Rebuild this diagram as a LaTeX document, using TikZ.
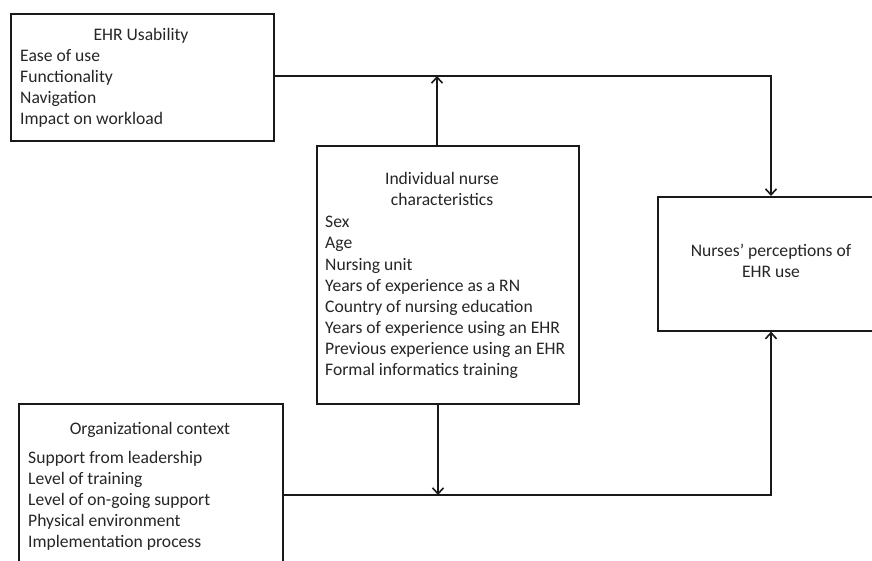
\documentclass[tikz,border=0pt]{standalone}
\usepackage{fontspec}
\setmainfont{Carlito}
\usetikzlibrary{arrows.meta}
\begin{document}
\begin{tikzpicture}[x=1pt,y=-1pt,
  box/.style={draw=black!90,line width=1.6pt,rectangle,inner sep=0pt,anchor=north west},
  txt/.style={font=\fontsize{17.6}{21}\selectfont,inner sep=0pt,anchor=base west,text=black!85},
  ctxt/.style={font=\fontsize{17.6}{21}\selectfont,inner sep=0pt,anchor=base,text=black!85},
  conn/.style={draw=black!90,line width=1.6pt},
  arr/.style={conn,-{Straight Barb[length=6pt,width=11pt,line width=1.6pt]}}]
\clip (0,0) rectangle (872,561);
\fill[white] (0,0) rectangle (872,561);
% boxes
\node[box,minimum width=263pt,minimum height=127pt] (ehr) at (10,13) {};
\node[box,minimum width=262pt,minimum height=258pt] (ind) at (316,145) {};
\node[box,minimum width=240pt,minimum height=134pt] (per) at (657,196) {};
\node[box,minimum width=264pt,minimum height=200pt] (org) at (18,403) {};
% EHR text
\node[ctxt] (ehr0) at (141,41) {EHR Usability};
\node[txt] (ehr1) at (20,62) {Ease of use};
\node[txt] (ehr2) at (20,83) {Functionality};
\node[txt] (ehr3) at (20,104) {Navigation};
\node[txt] (ehr4) at (20,125) {Impact on workload};
% Individual text
\node[ctxt] (ind0) at (442,185) {Individual nurse};
\node[ctxt] (ind00) at (442,206) {characteristics};
\node[txt] (ind1) at (325,228) {Sex};
\node[txt] (ind2) at (325,249) {Age};
\node[txt] (ind3) at (325,270) {Nursing unit};
\node[txt] (ind4) at (325,291) {Years of experience as a RN};
\node[txt] (ind5) at (325,312) {Country of nursing education};
\node[txt] (ind6) at (325,333) {Years of experience using an EHR};
\node[txt] (ind7) at (325,354) {Previous experience using an EHR};
\node[txt] (ind8) at (325,375) {Formal informatics training};
% perceptions text
\node[ctxt] (per0) at (771,256) {Nurses’ perceptions of};
\node[ctxt] (per1) at (771,277) {EHR use};
% Org text
\node[ctxt] (org0) at (150,434) {Organizational context};
\node[txt] (org1) at (28,463) {Support from leadership};
\node[txt] (org2) at (28,484) {Level of training};
\node[txt] (org3) at (28,505) {Level of on-going support};
\node[txt] (org4) at (28,526) {Physical environment};
\node[txt] (org5) at (28,547) {Implementation process};
% connectors
\coordinate (topjoin) at (437,76);
\coordinate (botjoin) at (438,495);
\draw[arr] (ehr.east |- topjoin) -| (per.north -| 771,0);
\draw[arr] (ind.north -| topjoin) -- (topjoin);
\draw[arr] (org.east |- botjoin) -| (per.south -| 771,0);
\draw[arr] (ind.south -| botjoin) -- (botjoin);
\end{tikzpicture}
\end{document}
